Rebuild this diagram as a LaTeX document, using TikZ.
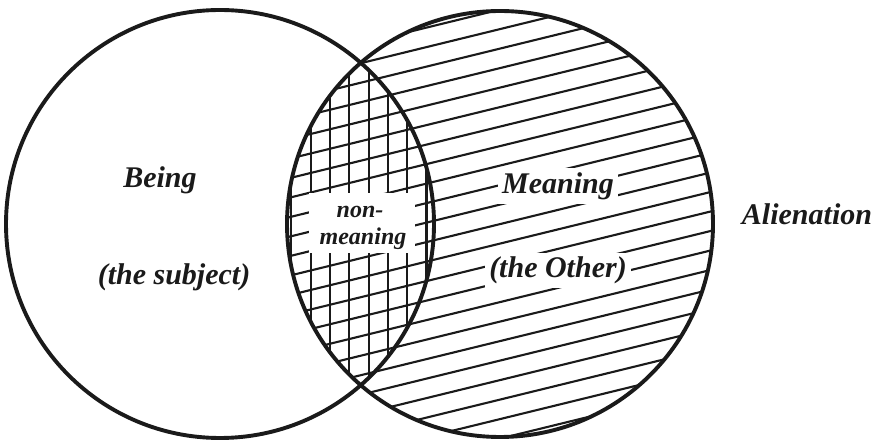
\documentclass[tikz,border=0pt]{standalone}
\usepackage{fontspec}
\setmainfont{Liberation Serif}
\definecolor{ink}{HTML}{1A1A1A}
\begin{document}
\begin{tikzpicture}[x=1pt,y=-1pt,
  ring/.style={circle,draw=ink,line width=3.9pt,inner sep=0pt,outer sep=0pt},
  hatch/.style={draw=ink,line width=2.1pt},
  lbl/.style={font=\fontsize{30}{34}\selectfont\bfseries\itshape,text=ink,inner sep=0pt,anchor=base},
  small/.style={font=\fontsize{24}{28}\selectfont\bfseries\itshape,text=ink,inner sep=0pt,anchor=base},
  gap/.style={fill=white,inner sep=4pt,anchor=base}]
\useasboundingbox (0,0) rectangle (879,443);
\fill[white] (0,0) rectangle (879,443);
\coordinate (cL) at (220,224);
\coordinate (cR) at (500,224);
% diagonal hatching in the right circle
\begin{scope}
  \clip (cR) circle[radius=213pt];
  \foreach \k in {-6,...,24}
    \draw[hatch] (280,{102.5+19.5*\k}) -- (720,{-5.3+19.5*\k});
\end{scope}
% vertical hatching in the lens
\begin{scope}
  \clip (cL) circle[radius=214pt];
  \clip (cR) circle[radius=213pt];
  \foreach \k in {0,...,7}
    \draw[hatch] ({291.4+19.3*\k},0) -- ({291.4+19.3*\k},443);
\end{scope}
% white gaps behind texts
\node[fill=white,minimum width=106pt,minimum height=60pt,inner sep=0pt] (nmbox) at (361.5,223) {};
\node[gap,font=\fontsize{30}{34}\selectfont\bfseries\itshape] (meanbox) at (558,193.3) {\phantom{Meaning}};
\node[gap,font=\fontsize{30}{34}\selectfont\bfseries\itshape] (otherbox) at (558,278) {\phantom{(the Other)}};
% circles
\node[ring,minimum size=428pt] (left) at (cL) {};
\node[ring,minimum size=426pt] (right) at (cR) {};
% labels
\node[lbl] (being) at (160,187.7) {Being};
\node[lbl] (subject) at (174,285) {(the subject)};
\node[lbl] (meaning) at (558,193.3) {Meaning};
\node[lbl] (other) at (558,278) {(the Other)};
\node[lbl] (alien) at (807,225) {Alienation};
\node[small] (non) at (360,218) {non-};
\node[small] (nonmeaning) at (363,245) {meaning};
\end{tikzpicture}
\end{document}
